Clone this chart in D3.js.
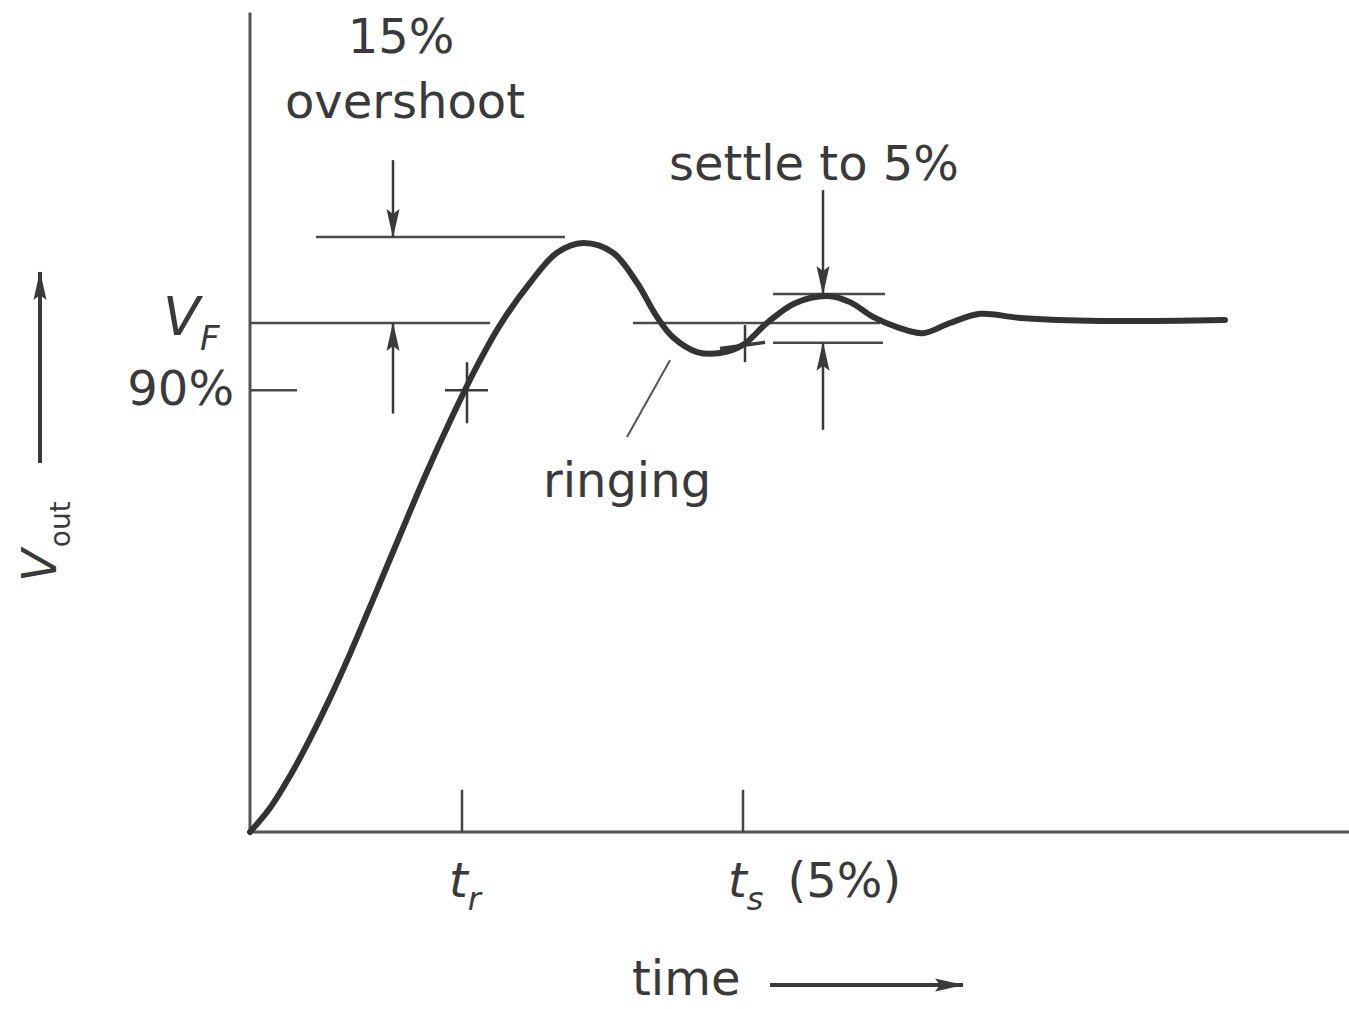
<!DOCTYPE html>
<html>
<head>
<meta charset="utf-8">
<script src="https://cdn.jsdelivr.net/npm/d3@7"></script>
<style>
  body { margin: 0; background: #fff; }
  .chart text { font-family: "DejaVu Sans", sans-serif; fill: #3a3a3a; }
</style>
</head>
<body>
<svg class="chart"></svg>
<script>
// step response, time in arbitrary units, Vout normalised to VF = 1
var times = [0, 0.20, 0.40, 0.60, 0.80, 1.00, 1.25, 1.50, 1.75, 2.00, 2.25, 2.50, 2.80, 3.07, 3.33, 3.63, 3.87, 4.07, 4.23, 4.47, 4.70, 4.93, 5.17, 5.45, 5.78, 6.00, 6.23, 6.47, 6.73, 7.00, 7.30, 7.70, 8.50, 9.75];
var vout  = [0, 0.047, 0.110, 0.183, 0.263, 0.350, 0.466, 0.583, 0.699, 0.807, 0.908, 0.996, 1.079, 1.138, 1.157, 1.138, 1.079, 1.012, 0.972, 0.943, 0.941, 0.957, 1.000, 1.039, 1.053, 1.041, 1.012, 0.992, 0.980, 1.000, 1.018, 1.010, 1.004, 1.006];

var tRise = 2.12, tSettle = 4.93;
var overshootLevel = 1.169, ninetyLevel = 0.868;
var bandHigh = 1.057, bandLow = 0.961;

// horizontal reference lines: [level, from, to]
var refLines = [
  [overshootLevel, 0.66, 3.15],
  [1.0, 0, 2.40],
  [1.0, 3.83, 6.30],
  [ninetyLevel, 0, 0.47],
  [bandHigh, 5.23, 6.35],
  [bandLow, 5.23, 6.33]
];
// arrows: [time, from level, to level]
var arrows = [
  [1.43, 1.320, overshootLevel],
  [1.43, 0.822, 1.0],
  [5.73, 1.261, bandHigh],
  [5.73, 0.790, bandLow]
];

var width = 1349, height = 1009;
var x = d3.scaleLinear().domain([0, 11]).range([250, 1350]);
var y = d3.scaleLinear().domain([0, 1]).range([832, 323]);

var chart = d3.select(".chart").attr("width", width).attr("height", height);

var defs = chart.append("defs");
defs.append("marker")
  .attr("id", "head")
  .attr("markerUnits", "userSpaceOnUse")
  .attr("markerWidth", 30).attr("markerHeight", 16)
  .attr("refX", 28).attr("refY", 8)
  .attr("orient", "auto")
  .append("path")
  .attr("d", "M0,1.5 L29,8 L0,14.5 L5,8 Z")
  .attr("fill", "#3a3a3a");

// axes
chart.append("line")
  .attr("x1", x(0)).attr("x2", x(0))
  .attr("y1", y(1.61)).attr("y2", y(0))
  .attr("stroke", "#555").attr("stroke-width", 3);
chart.append("line")
  .attr("x1", x(0)).attr("x2", width)
  .attr("y1", y(0)).attr("y2", y(0))
  .attr("stroke", "#555").attr("stroke-width", 3);

// ticks at tr and ts
chart.selectAll(".tick").data([tRise, tSettle]).enter().append("line")
  .attr("x1", function(d) { return x(d); }).attr("x2", function(d) { return x(d); })
  .attr("y1", y(0)).attr("y2", y(0.083))
  .attr("stroke", "#444").attr("stroke-width", 2.5);

// reference lines
chart.selectAll(".ref").data(refLines).enter().append("line")
  .attr("x1", function(d) { return x(d[1]); })
  .attr("x2", function(d) { return x(d[2]); })
  .attr("y1", function(d) { return y(d[0]); })
  .attr("y2", function(d) { return y(d[0]); })
  .attr("stroke", "#4a4a4a").attr("stroke-width", 2.5);

// arrows
chart.selectAll(".arr").data(arrows).enter().append("line")
  .attr("x1", function(d) { return x(d[0]); })
  .attr("x2", function(d) { return x(d[0]); })
  .attr("y1", function(d) { return y(d[1]); })
  .attr("y2", function(d) { return y(d[2]); })
  .attr("stroke", "#3a3a3a").attr("stroke-width", 2.5)
  .attr("marker-end", "url(#head)");

// cross marks on the curve
chart.append("line")
  .attr("x1", x(tRise - 0.17)).attr("x2", x(tRise + 0.26))
  .attr("y1", y(ninetyLevel)).attr("y2", y(ninetyLevel))
  .attr("stroke", "#3a3a3a").attr("stroke-width", 2.5);
chart.append("line")
  .attr("x1", x(tRise + 0.05)).attr("x2", x(tRise + 0.05))
  .attr("y1", y(ninetyLevel + 0.055)).attr("y2", y(ninetyLevel - 0.065))
  .attr("stroke", "#3a3a3a").attr("stroke-width", 2.5);
chart.append("line")
  .attr("x1", x(tSettle - 0.23)).attr("x2", x(tSettle + 0.22))
  .attr("y1", y(0.950)).attr("y2", y(0.962))
  .attr("stroke", "#3a3a3a").attr("stroke-width", 3.5);
chart.append("line")
  .attr("x1", x(tSettle + 0.02)).attr("x2", x(tSettle + 0.02))
  .attr("y1", y(0.996)).attr("y2", y(0.923))
  .attr("stroke", "#3a3a3a").attr("stroke-width", 2.5);

// ringing leader
chart.append("line")
  .attr("x1", x(4.20)).attr("y1", y(0.927))
  .attr("x2", x(3.77)).attr("y2", y(0.776))
  .attr("stroke", "#555").attr("stroke-width", 2);

// response curve
var pts = times.map(function(t, i) { return [t, vout[i]]; });
chart.append("path")
  .datum(pts)
  .attr("fill", "none")
  .attr("stroke", "#333")
  .attr("stroke-width", 6)
  .attr("stroke-linecap", "round")
  .attr("d", d3.line()
    .x(function(d) { return x(d[0]); })
    .y(function(d) { return y(d[1]); })
    .curve(d3.curveCatmullRom.alpha(0.5)));

// labels
var fs = 48;
chart.append("text").attr("x", 401).attr("y", 53).attr("text-anchor", "middle")
  .attr("font-size", fs).text("15%");
chart.append("text").attr("x", 405).attr("y", 118).attr("text-anchor", "middle")
  .attr("font-size", fs).text("overshoot");
chart.append("text").attr("x", 814).attr("y", 180).attr("text-anchor", "middle")
  .attr("font-size", fs).text("settle to 5%");
chart.append("text").attr("x", 627).attr("y", 497).attr("text-anchor", "middle")
  .attr("font-size", fs).text("ringing");
chart.append("text").attr("x", 234).attr("y", 405).attr("text-anchor", "end")
  .attr("font-size", fs).text("90%");

var vf = chart.append("text").attr("x", 163).attr("y", 335).attr("font-size", 54);
vf.append("tspan").attr("font-style", "italic").text("V");
vf.append("tspan").attr("font-style", "italic").attr("font-size", 34).attr("dy", 15).text("F");

var tr = chart.append("text").attr("x", x(tRise) - 13).attr("y", 897).attr("font-size", fs);
tr.append("tspan").attr("font-style", "italic").text("t");
tr.append("tspan").attr("font-style", "italic").attr("font-size", 32).attr("dy", 13).text("r");

var ts = chart.append("text").attr("x", x(tSettle) - 15).attr("y", 897).attr("font-size", fs);
ts.append("tspan").attr("font-style", "italic").text("t");
ts.append("tspan").attr("font-style", "italic").attr("font-size", 32).attr("dy", 13).text("s");
ts.append("tspan").attr("dy", -13).attr("dx", 24).text("(5%)");

chart.append("text").attr("x", 632).attr("y", 995).attr("font-size", fs).text("time");
chart.append("line")
  .attr("x1", 770).attr("x2", 963).attr("y1", 985).attr("y2", 985)
  .attr("stroke", "#3a3a3a").attr("stroke-width", 4)
  .attr("marker-end", "url(#head)");

var vo = chart.append("text")
  .attr("transform", "translate(56,582) rotate(-90)")
  .attr("font-size", 48);
vo.append("tspan").attr("font-style", "italic").text("V");
vo.append("tspan").attr("font-size", 28).attr("dy", 14).attr("dx", 2).text("out");
chart.append("line")
  .attr("x1", 40).attr("x2", 40).attr("y1", 463).attr("y2", 272)
  .attr("stroke", "#3a3a3a").attr("stroke-width", 4)
  .attr("marker-end", "url(#head)");
</script>
</body>
</html>
